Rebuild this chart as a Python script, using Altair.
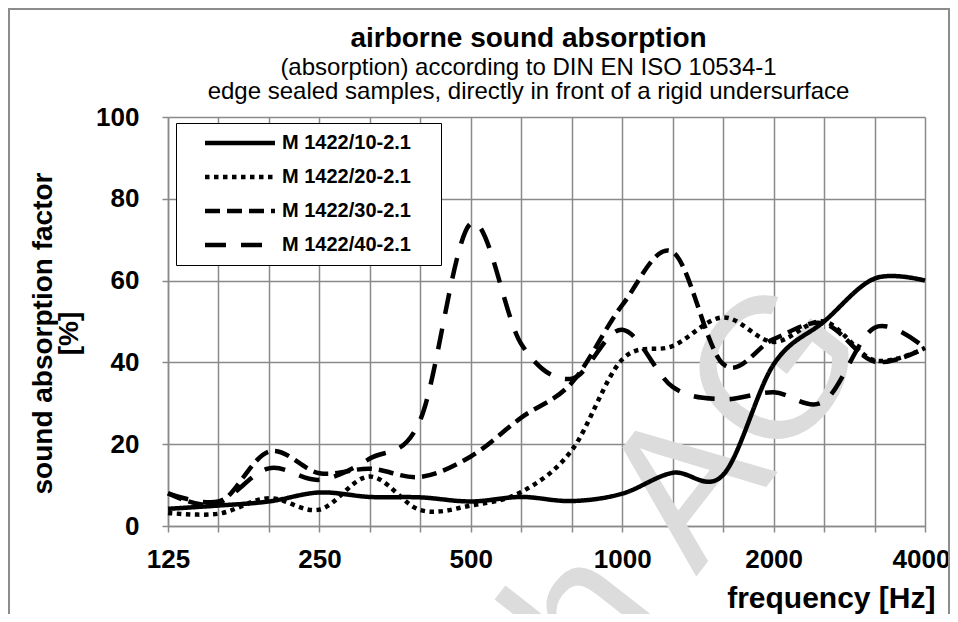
import json
import altair as alt
import pandas as pd

# ---- data -------------------------------------------------------------
freqs = ["125", "160", "200", "250", "315", "400", "500", "630",
         "800", "1000", "1250", "1600", "2000", "2500", "3150", "4000"]
labelled = ["125", "250", "500", "1000", "2000", "4000"]
series_names = ["M 1422/10-2.1", "M 1422/20-2.1", "M 1422/30-2.1", "M 1422/40-2.1"]

m10 = [4.2, 5.0, 6.0, 8.2, 7.1, 7.0, 6.0, 7.1, 6.1, 7.9, 13.0, 12.5, 39.5, 50.0, 60.5, 60.0]
m20 = [3.2, 3.0, 6.8, 4.0, 12.1, 3.9, 5.0, 8.3, 18.5, 40.7, 44.0, 51.0, 45.0, 50.0, 40.5, 43.5]
m30 = [8.0, 5.5, 18.2, 12.9, 14.0, 12.0, 17.0, 26.5, 35.0, 54.0, 67.0, 39.6, 45.7, 49.5, 40.2, 43.5]
m40 = [8.0, 6.0, 14.1, 11.3, 16.5, 26.0, 74.0, 44.5, 36.0, 48.0, 34.0, 31.0, 32.7, 30.5, 48.5, 43.5]

title_text = "airborne sound absorption"
subtitle_lines = ["(absorption) according to DIN EN ISO 10534-1",
                  "edge sealed samples, directly in front of a rigid undersurface"]
y_title = ["sound absorption factor", "[%]"]
x_title = "frequency [Hz]"
watermark = ["h AG"]

rows = []
for name, vals in zip(series_names, [m10, m20, m30, m40]):
    for f, v in zip(freqs, vals):
        rows.append({"freq": f, "value": v, "series": name})
df = pd.DataFrame(rows)

FONT = "Liberation Sans"
GRID = "#8a8a8a"

dash_range = [[1, 0], [4.5, 4.5], [15, 7], [21, 15]]

label_expr = "indexof(%s, datum.value) >= 0 ? datum.value : ''" % json.dumps(labelled)

x_enc = alt.X(
    "freq:O",
    sort=freqs,
    scale=alt.Scale(type="point", padding=0, domain=freqs),
    axis=alt.Axis(
        title=x_title, labelExpr=label_expr, labelAngle=0,
        labelFont=FONT, labelFontSize=26, labelFontWeight="bold", labelColor="black",
        labelOffset={"condition": {"test": "datum.value === '4000'", "value": -4}, "value": 0},
        labelPadding=14, tickSize=6, tickColor=GRID, tickWidth=1.5,
        domainColor=GRID, domainWidth=1.5,
        grid=True, gridColor=GRID, gridWidth=1.5,
        titleFont=FONT, titleFontSize=30, titleFontWeight="bold", titleColor="black",
        titleX=767, titleY=72, titleAlign="right", titleBaseline="middle",
    ),
)
y_enc = alt.Y(
    "value:Q",
    scale=alt.Scale(domain=[0, 100], nice=False),
    axis=alt.Axis(
        title=y_title, values=[0, 20, 40, 60, 80, 100],
        labelFont=FONT, labelFontSize=26, labelFontWeight="bold", labelColor="black",
        labelPadding=23, tickSize=6, tickColor=GRID, tickWidth=1.5,
        domainColor=GRID, domainWidth=1.5,
        grid=True, gridColor=GRID, gridWidth=1.5,
        titleFont=FONT, titleFontSize=28, titleFontWeight="bold", titleColor="black",
        titleX=-125, titleY=216, titleAngle=-90, titleAlign="center",
        titleBaseline="middle", titleLineHeight=26,
    ),
)

lines = alt.Chart(df).mark_line(
    interpolate="cardinal", color="black", strokeWidth=4.5, strokeCap="butt"
).encode(
    x=x_enc,
    y=y_enc,
    strokeDash=alt.StrokeDash(
        "series:N",
        scale=alt.Scale(domain=series_names, range=dash_range),
        legend=alt.Legend(
            orient="none", legendX=8, legendY=6,
            title="\u00a0", titleOrient="right", titlePadding=20, titleFontSize=4,
            symbolType="M1.2,0H10.53", symbolSize=225, symbolStrokeWidth=4.5,
            symbolStrokeColor="black",
            labelFont=FONT, labelFontSize=20, labelFontWeight="bold", labelColor="black",
            labelOffset=76, rowPadding=14, padding=10,
            strokeColor="black", fillColor="white",
        ),
    ),
    detail="series:N",
)

wm = alt.Chart(pd.DataFrame({"t": watermark})).mark_text(
    angle=308, fontSize=200, color="#dcdcdc", align="right",
    baseline="alphabetic", font=FONT,
).encode(x=alt.value(706), y=alt.value(232), text="t:N")

frame = alt.Chart(pd.DataFrame({"a": [0]})).mark_rect(
    fillOpacity=0, stroke="#8c8c8c", strokeWidth=2
).encode(x=alt.value(-159), x2=alt.value(781), y=alt.value(-108), y2=alt.value(520))

chart = alt.layer(frame, wm, lines).properties(
    width=757, height=409,
    title=alt.TitleParams(
        text=title_text, subtitle=subtitle_lines, anchor="middle", frame="group",
        dx=-18, offset=-96, font=FONT, fontSize=28, fontWeight="bold", color="black",
        subtitleFont=FONT, subtitleFontSize=24, subtitleColor="black",
        subtitleLineHeight=24, subtitlePadding=3,
    ),
    autosize=alt.AutoSizeParams(type="none"),
    padding={"left": 160, "top": 109, "right": 25, "bottom": 88},
).configure_view(stroke=None).configure(background="white")

chart.save("out.html", embed_options={"renderer": "svg", "actions": False})
